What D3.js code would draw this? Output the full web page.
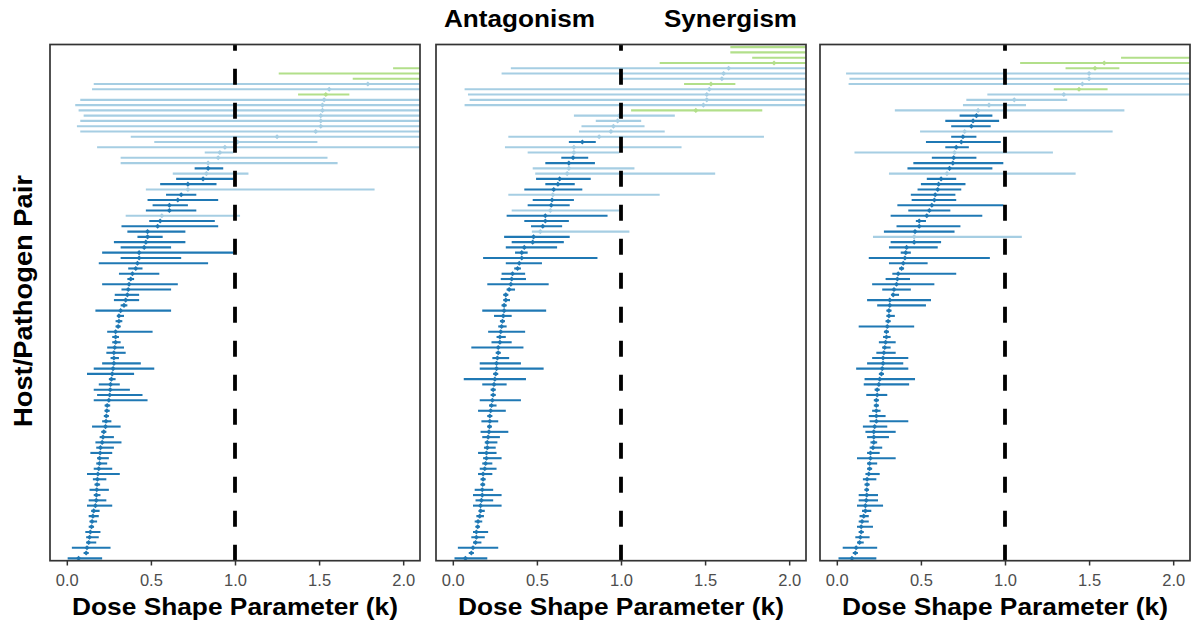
<!DOCTYPE html>
<html><head><meta charset="utf-8">
<script src="https://cdn.jsdelivr.net/npm/d3@7"></script>
<style>body{margin:0;background:#fff}svg{display:block}</style>
</head><body>
<svg id="c" width="1193" height="628"></svg>
<script>
// ---- data (rows listed top to bottom; A = dark blue, N = light blue, S = green) ----
const p1K  = [2.30,2.25,2.25,1.79,1.56,1.54,1.53,1.52,1.52,1.51,1.51,1.51,1.48,1.25,1.015,0.94,0.91,0.90,0.84,0.84,0.83,0.81,0.72,0.72,0.68,0.66,0.61,0.61,0.565,0.555,0.54,0.48,0.48,0.47,0.46,0.43,0.43,0.42,0.41,0.39,0.38,0.37,0.365,0.36,0.35,0.34,0.32,0.31,0.31,0.305,0.29,0.29,0.29,0.285,0.28,0.28,0.28,0.275,0.27,0.265,0.26,0.258,0.255,0.25,0.24,0.238,0.235,0.233,0.23,0.22,0.215,0.21,0.20,0.198,0.195,0.194,0.19,0.185,0.182,0.18,0.178,0.176,0.175,0.17,0.16,0.155,0.15,0.147,0.14,0.135,0.13,0.12,0.115,0.07];
const p1Lo = [1.94,1.26,1.70,0.16,0.15,1.375,0.08,0.05,0.07,0.10,0.08,0.06,0.08,0.38,0.52,0.18,0.82,0.32,0.32,0.76,0.63,0.65,0.555,0.47,0.59,0.48,0.51,0.47,0.35,0.49,0.325,0.36,0.42,0.28,0.32,0.21,0.32,0.19,0.365,0.31,0.36,0.21,0.325,0.285,0.28,0.32,0.17,0.30,0.29,0.29,0.24,0.27,0.27,0.24,0.235,0.26,0.21,0.16,0.12,0.25,0.19,0.16,0.18,0.16,0.225,0.225,0.22,0.21,0.15,0.205,0.195,0.17,0.175,0.14,0.18,0.175,0.16,0.12,0.155,0.165,0.135,0.16,0.13,0.12,0.145,0.13,0.135,0.13,0.11,0.115,0.115,0.03,0.10,0.005];
const p1Hi = [3,3.5,3,3,3,1.68,3,3,3,3,3,3,3,3,1.49,3,0.99,1.55,1.61,0.93,1.08,0.99,0.89,1.83,0.77,0.90,0.72,0.77,1.03,0.88,0.90,0.705,0.57,0.705,0.62,0.99,0.68,0.84,0.45,0.55,0.40,0.66,0.62,0.43,0.43,0.36,0.62,0.34,0.33,0.32,0.51,0.31,0.32,0.34,0.35,0.31,0.44,0.52,0.40,0.29,0.315,0.375,0.45,0.48,0.258,0.255,0.25,0.265,0.32,0.235,0.28,0.325,0.28,0.27,0.25,0.24,0.27,0.315,0.235,0.198,0.25,0.20,0.235,0.27,0.195,0.19,0.18,0.162,0.20,0.19,0.175,0.26,0.13,0.21];
const p1Cat = "SSSNN SNNNN NNNNN NNNNA NAANA AAANA";

const p2K  = [2.30,2.25,2.20,1.91,1.64,1.61,1.60,1.535,1.525,1.51,1.51,1.49,1.445,0.99,0.98,0.955,0.94,0.87,0.77,0.72,0.72,0.715,0.69,0.69,0.68,0.635,0.625,0.60,0.595,0.59,0.585,0.58,0.55,0.55,0.535,0.52,0.48,0.475,0.425,0.41,0.41,0.395,0.385,0.355,0.35,0.345,0.335,0.315,0.315,0.305,0.305,0.30,0.295,0.29,0.285,0.28,0.28,0.27,0.27,0.265,0.26,0.26,0.255,0.25,0.245,0.24,0.24,0.235,0.23,0.225,0.22,0.22,0.218,0.215,0.21,0.205,0.205,0.20,0.20,0.195,0.19,0.18,0.18,0.178,0.175,0.175,0.17,0.165,0.165,0.16,0.15,0.148,0.14,0.14,0.135,0.12,0.11,0.075];
const p2Lo = [1.65,1.65,1.78,1.23,0.345,0.29,0.99,1.375,0.07,0.09,0.10,0.07,1.06,0.72,0.85,0.765,0.75,0.33,0.69,0.31,0.445,0.645,0.55,0.475,0.49,0.495,0.55,0.425,0.33,0.475,0.445,0.35,0.32,0.425,0.465,0.47,0.305,0.35,0.315,0.37,0.18,0.315,0.365,0.29,0.285,0.205,0.32,0.30,0.30,0.29,0.175,0.245,0.28,0.27,0.21,0.26,0.23,0.11,0.255,0.235,0.16,0.16,0.24,0.065,0.175,0.225,0.225,0.16,0.215,0.15,0.205,0.17,0.205,0.165,0.175,0.19,0.185,0.15,0.18,0.175,0.16,0.15,0.165,0.165,0.13,0.12,0.135,0.12,0.155,0.14,0.13,0.135,0.12,0.11,0.12,0.03,0.095,0.01];
const p2Hi = [3,3,3,3,3,3,3,1.68,3,3,3,3,1.84,1.32,1.12,1.14,1.26,1.85,0.85,1.36,0.99,0.805,0.845,1.08,1.56,0.82,0.725,0.77,1.23,0.72,0.695,0.99,0.92,0.69,0.65,1.05,0.695,0.66,0.62,0.445,0.86,0.53,0.405,0.43,0.435,0.57,0.37,0.33,0.34,0.32,0.555,0.35,0.31,0.32,0.43,0.315,0.35,0.42,0.285,0.335,0.405,0.54,0.27,0.435,0.32,0.255,0.255,0.405,0.26,0.315,0.235,0.27,0.232,0.33,0.28,0.265,0.255,0.26,0.29,0.235,0.26,0.235,0.195,0.192,0.24,0.29,0.24,0.29,0.19,0.185,0.175,0.16,0.21,0.19,0.17,0.27,0.125,0.205];
const p2Cat = "SSSSN NNSNN NNSNN NNNAN NAANN AAANA ANAAA NA";

const p3K  = [2.25,1.59,1.535,1.50,1.50,1.46,1.44,1.35,1.055,0.905,0.84,0.83,0.81,0.80,0.76,0.75,0.74,0.71,0.70,0.695,0.69,0.67,0.655,0.62,0.605,0.60,0.585,0.58,0.565,0.55,0.535,0.49,0.49,0.465,0.46,0.46,0.415,0.41,0.405,0.395,0.385,0.365,0.36,0.355,0.34,0.335,0.315,0.315,0.31,0.31,0.305,0.30,0.295,0.295,0.29,0.285,0.28,0.275,0.275,0.27,0.265,0.255,0.25,0.24,0.24,0.235,0.235,0.235,0.235,0.235,0.225,0.22,0.22,0.22,0.215,0.20,0.20,0.195,0.195,0.19,0.18,0.18,0.178,0.178,0.175,0.17,0.17,0.16,0.15,0.145,0.145,0.14,0.135,0.115,0.11,0.09];
const p3Lo = [1.69,1.09,1.36,0.055,0.075,0.07,1.29,0.895,0.77,0.75,0.345,0.73,0.645,0.68,0.495,0.68,0.53,0.645,0.105,0.565,0.455,0.42,0.31,0.535,0.50,0.48,0.44,0.445,0.36,0.425,0.32,0.47,0.355,0.28,0.215,0.32,0.31,0.38,0.19,0.31,0.37,0.33,0.29,0.21,0.27,0.325,0.18,0.24,0.295,0.295,0.29,0.13,0.28,0.275,0.25,0.27,0.235,0.21,0.18,0.115,0.25,0.165,0.16,0.225,0.175,0.22,0.22,0.21,0.19,0.195,0.155,0.17,0.18,0.20,0.195,0.18,0.12,0.18,0.18,0.17,0.155,0.165,0.165,0.13,0.13,0.12,0.15,0.135,0.13,0.12,0.13,0.11,0.12,0.035,0.095,0.01];
const p3Hi = [3,3,1.68,3,3,3,1.61,3,1.37,1.125,1.71,0.925,0.965,0.915,1.64,0.83,0.975,0.785,1.285,0.83,0.99,0.925,1.42,0.71,0.765,0.74,0.705,0.71,0.99,0.675,0.865,0.53,0.735,0.70,1.10,0.62,0.60,0.44,0.91,0.54,0.40,0.71,0.435,0.58,0.44,0.37,0.56,0.53,0.325,0.345,0.32,0.46,0.31,0.32,0.35,0.32,0.35,0.425,0.395,0.425,0.28,0.465,0.43,0.255,0.30,0.25,0.25,0.26,0.29,0.425,0.30,0.35,0.31,0.24,0.27,0.255,0.35,0.24,0.21,0.255,0.235,0.195,0.19,0.245,0.245,0.275,0.205,0.19,0.19,0.215,0.16,0.195,0.16,0.24,0.125,0.235];
const p3Cat = "SSSNN NSNNN NAAAN AAANA AANAA AAAAA AAAAN";

const xTicks = [0, 0.5, 1.0, 1.5, 2.0];
const topLabels = ["Antagonism", "Synergism"];
const xTitle = "Dose Shape Parameter (k)";
const yTitle = "Host/Pathogen Pair";
const catColor = {A: "#1f78b4", N: "#a6cee3", S: "#b2df8a"};

// ---- layout ----
const svg = d3.select("#c");
svg.append("rect").attr("width",1193).attr("height",628).attr("fill","#fff");
const plotTop = 44.5, plotBottom = 560.7, pw = 370;
const lefts = [50, 436, 820];
const y = d3.scaleLinear().domain([-0.45, 97.5]).range([plotBottom, plotTop]);
const panels = [
  {K:p1K, Lo:p1Lo, Hi:p1Hi, C:p1Cat},
  {K:p2K, Lo:p2Lo, Hi:p2Hi, C:p2Cat},
  {K:p3K, Lo:p3Lo, Hi:p3Hi, C:p3Cat}
];
const fontTxt = "'Liberation Sans', Arial, Helvetica, sans-serif";

panels.forEach((p, pi) => {
  const L = lefts[pi];
  const x = d3.scaleLinear().domain([-0.1, 2.1]).range([L, L + pw]);
  const n = p.K.length;
  const cats = p.C.replace(/ /g, "").padEnd(n, "A").split("");
  const rows = p.K.map((k, i) => ({k, lo: p.Lo[i], hi: p.Hi[i], c: cats[i], idx: n - 1 - i}));
  const clipId = "clip" + pi;
  svg.append("clipPath").attr("id", clipId).append("rect")
    .attr("x", L).attr("y", plotTop).attr("width", pw).attr("height", plotBottom - plotTop);
  const g = svg.append("g").attr("clip-path", `url(#${clipId})`);
  g.selectAll("line.bar").data(rows).join("line").attr("class","bar")
    .attr("x1", d => x(d.lo)).attr("x2", d => x(d.hi))
    .attr("y1", d => y(d.idx)).attr("y2", d => y(d.idx))
    .attr("stroke", d => catColor[d.c]).attr("stroke-width", 2.1);
  g.selectAll("path.pt").data(rows).join("path").attr("class","pt")
    .attr("d", d3.symbol(d3.symbolSquare, 13))
    .attr("transform", d => `translate(${x(d.k)},${y(d.idx)}) rotate(45)`)
    .attr("fill", d => catColor[d.c]);
  // dashed reference line at k = 1
  g.append("line").attr("x1", x(1)).attr("x2", x(1)).attr("y1", plotBottom).attr("y2", plotTop)
    .attr("stroke", "#000").attr("stroke-width", 3.8).attr("stroke-dasharray", "16,18");
  // border
  svg.append("rect").attr("x", L).attr("y", plotTop).attr("width", pw).attr("height", plotBottom - plotTop)
    .attr("fill", "none").attr("stroke", "#333").attr("stroke-width", 1.7);
  // axis
  const ax = svg.append("g").attr("transform", `translate(0,${plotBottom})`)
    .call(d3.axisBottom(x).tickValues(xTicks).tickFormat(d3.format(".1f")).tickSize(4.8).tickPadding(9));
  ax.select(".domain").remove();
  ax.selectAll(".tick line").attr("stroke", "#333").attr("stroke-width", 1.5);
  ax.selectAll(".tick text").attr("fill", "#4d4d4d").style("font-family", fontTxt).style("font-size", "16.5px");
  // x title
  svg.append("text").attr("x", L + pw / 2).attr("y", 615).attr("text-anchor", "middle")
    .style("font-family", fontTxt).style("font-weight", "bold").style("font-size", "24.5px")
    .attr("textLength", 326).attr("lengthAdjust", "spacingAndGlyphs").text(xTitle);
});

// y title
svg.append("text").attr("transform", "translate(32,301) rotate(-90)").attr("text-anchor", "middle")
  .style("font-family", fontTxt).style("font-weight", "bold").style("font-size", "25px")
  .attr("textLength", 252).attr("lengthAdjust", "spacingAndGlyphs").text(yTitle);

// top labels
const tl = [{t: topLabels[0], cx: 519.5, w: 151}, {t: topLabels[1], cx: 730.5, w: 133}];
tl.forEach(d => {
  svg.append("text").attr("x", d.cx).attr("y", 26.7).attr("text-anchor", "middle")
    .style("font-family", fontTxt).style("font-weight", "bold").style("font-size", "23px")
    .attr("textLength", d.w).attr("lengthAdjust", "spacingAndGlyphs").text(d.t);
});
</script>
</body></html>
